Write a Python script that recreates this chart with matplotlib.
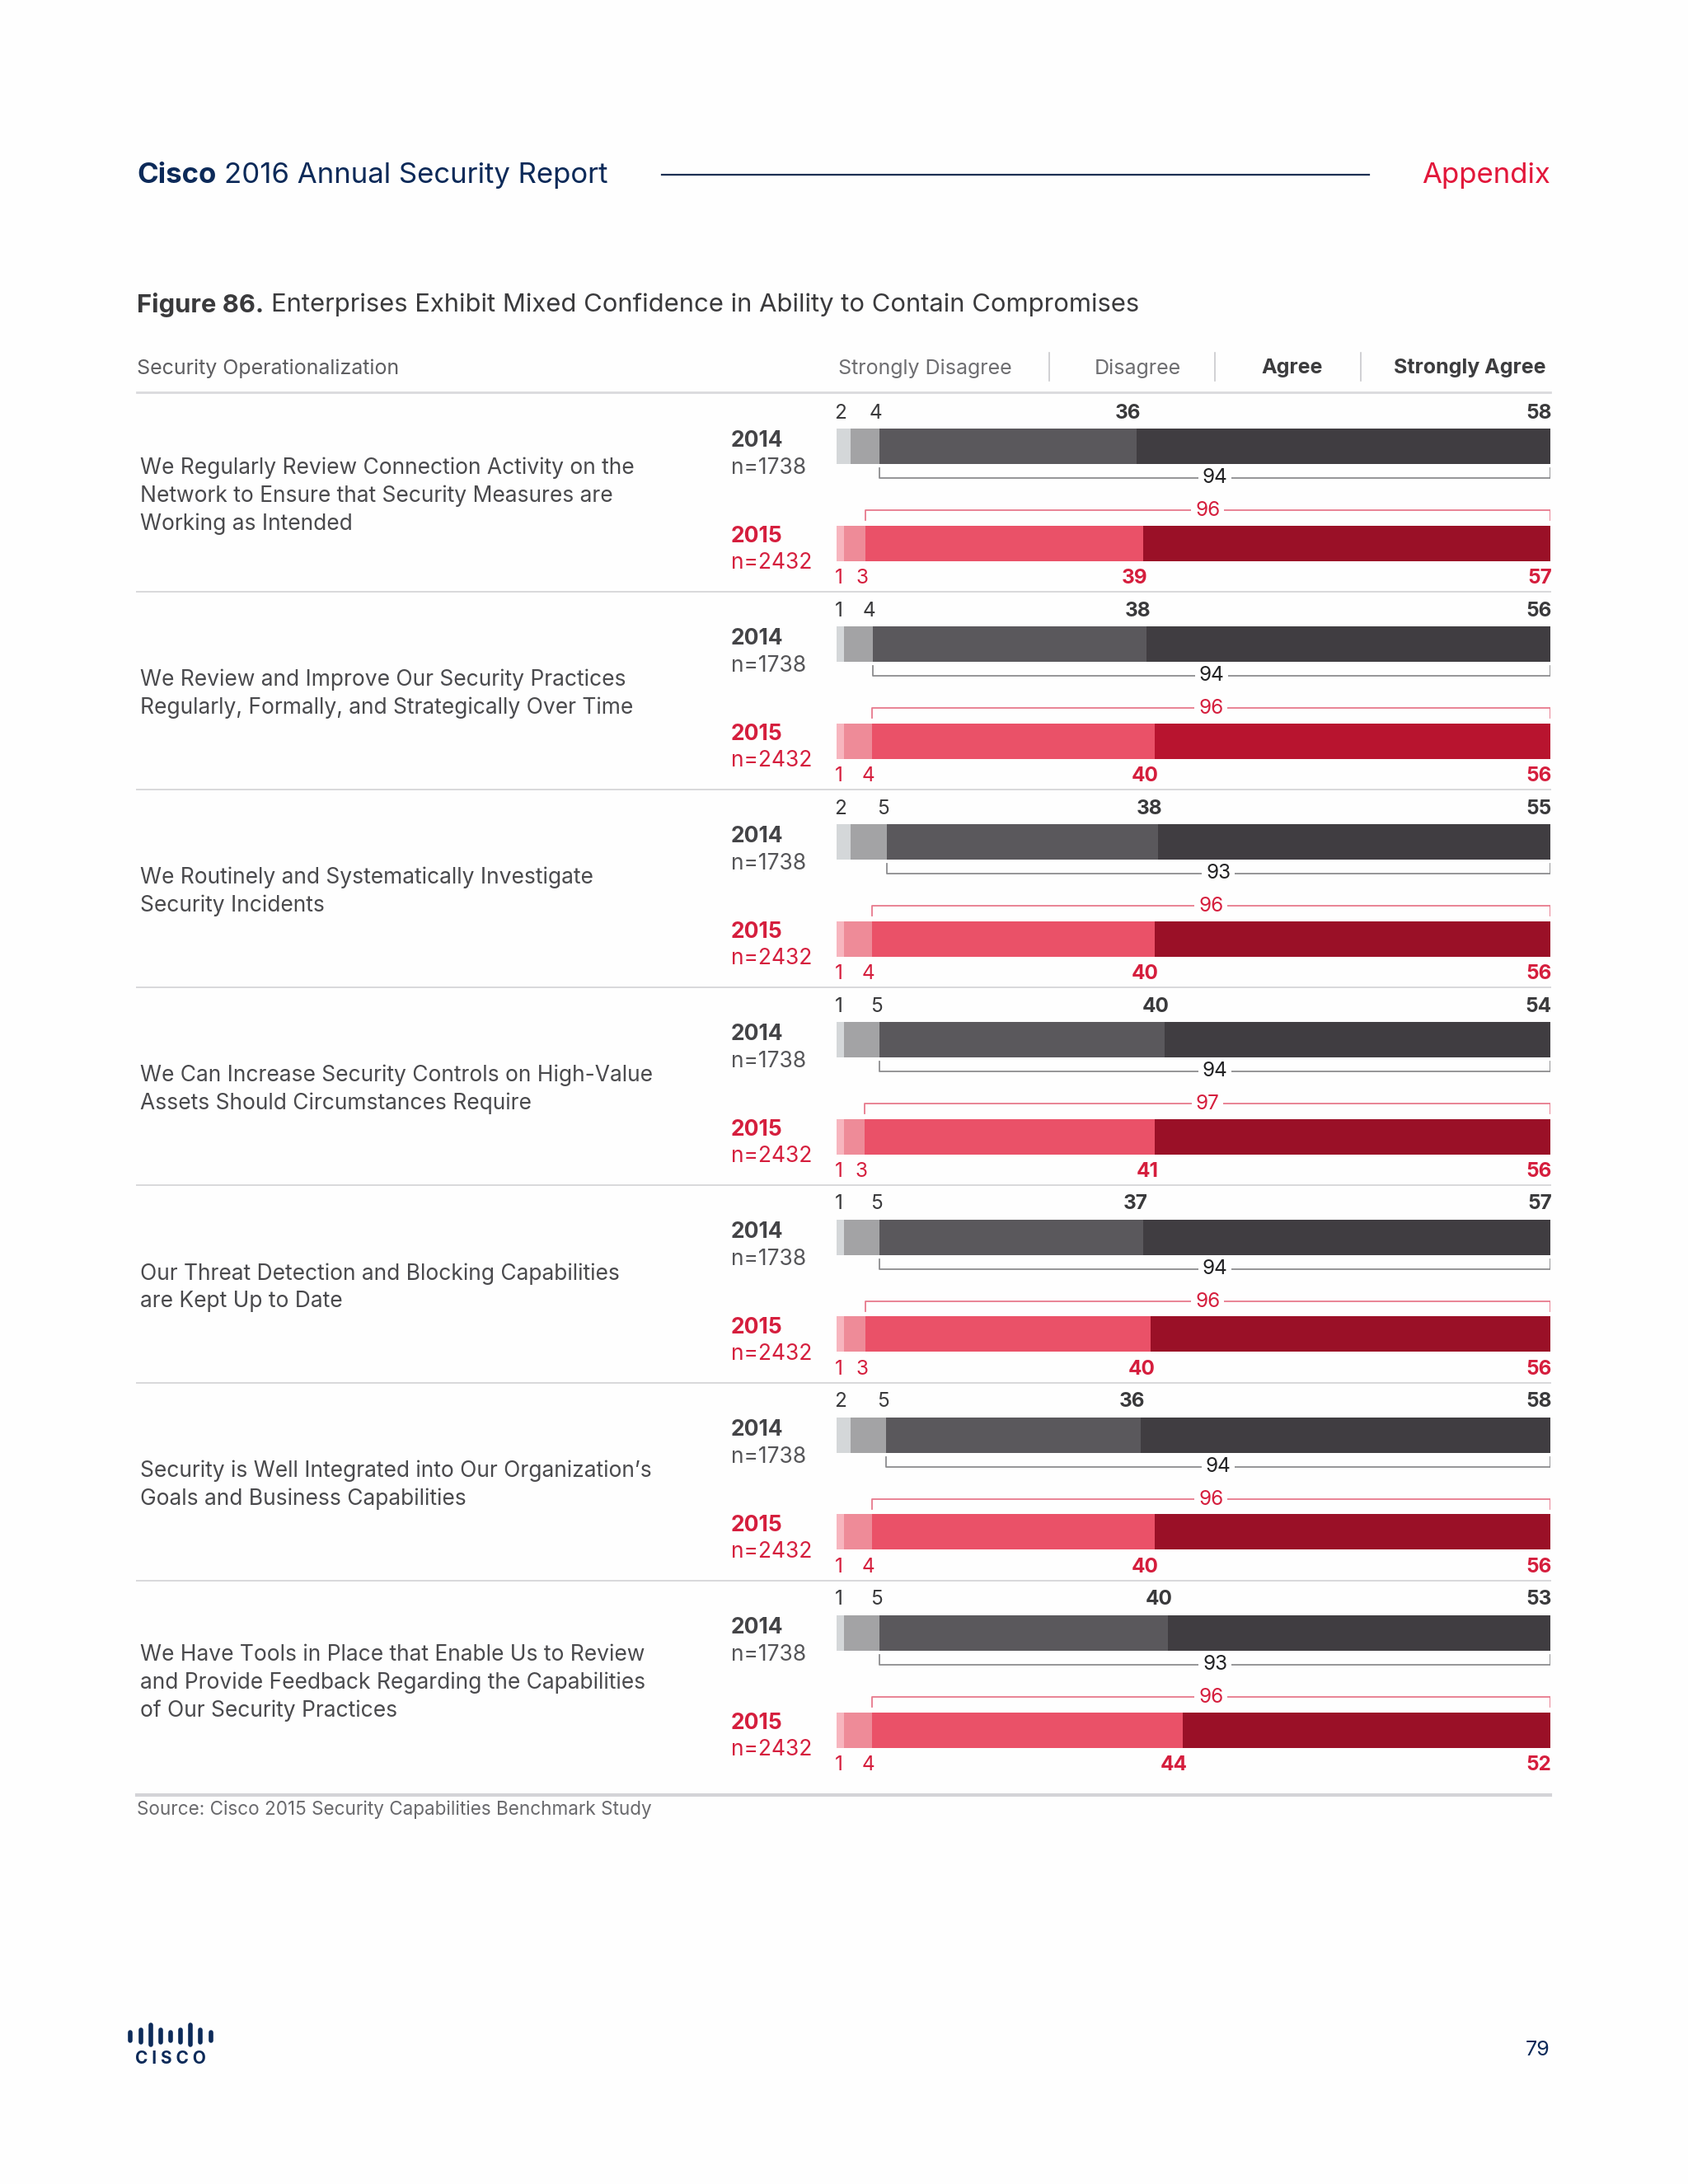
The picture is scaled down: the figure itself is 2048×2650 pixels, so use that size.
import numpy as np
import matplotlib
matplotlib.use("Agg")
import matplotlib.pyplot as plt

plt.rcParams['font.family'] = ['Inter', 'DejaVu Sans']

# ---- data ----
statements = [
    "We Regularly Review Connection Activity on the\nNetwork to Ensure that Security Measures are\nWorking as Intended",
    "We Review and Improve Our Security Practices\nRegularly, Formally, and Strategically Over Time",
    "We Routinely and Systematically Investigate\nSecurity Incidents",
    "We Can Increase Security Controls on High-Value\nAssets Should Circumstances Require",
    "Our Threat Detection and Blocking Capabilities\nare Kept Up to Date",
    "Security is Well Integrated into Our Organization\u2019s\nGoals and Business Capabilities",
    "We Have Tools in Place that Enable Us to Review\nand Provide Feedback Regarding the Capabilities\nof Our Security Practices",
]
categories = ["Strongly Disagree", "Disagree", "Agree", "Strongly Agree"]
years = ["2014", "2015"]
sample_sizes = ["n=1738", "n=2432"]

# columns: strongly disagree, disagree, agree, strongly agree
vals_2014 = np.array([
    [2, 4, 36, 58],
    [1, 4, 38, 56],
    [2, 5, 38, 55],
    [1, 5, 40, 54],
    [1, 5, 37, 57],
    [2, 5, 36, 58],
    [1, 5, 40, 53],
])
vals_2015 = np.array([
    [1, 3, 39, 57],
    [1, 4, 40, 56],
    [1, 4, 40, 56],
    [1, 3, 41, 56],
    [1, 3, 40, 56],
    [1, 4, 40, 56],
    [1, 4, 44, 52],
])

# ---- styles ----
GREYS = ["#D4D7D9", "#A3A3A5", "#5A585C", "#403D41"]
REDS = ["#F7B5BE", "#EE8B98", "#EA5168", "#9A1027"]
RED_HIGHLIGHT = "#B8142F"   # row 2 uses a brighter strongly-agree red
NAVY = "#0C2A59"
RED_TXT = "#D51E3D"
LABEL_TXT = "#4A4A4D"
NUM_SIZE = 17.5

W, H = 2048, 2650
PITCH = 240.0   # pixels per row
Y0 = 500.0      # pixel y of first row's value labels

fig = plt.figure(figsize=(W / 100, H / 100), dpi=100)
fig.patch.set_facecolor("#FEFEFE")
renderer = fig.canvas.get_renderer()

bg = fig.add_axes([0, 0, 1, 1])
bg.set_xlim(0, W)
bg.set_ylim(H, 0)
bg.axis("off")


def text_pair(x, y, first, second, size, color, gap=0.28):
    # bold lead-in followed by regular text on the same line
    t = bg.text(x, y, first, fontsize=size, fontweight="bold", color=color, va="center", ha="left")
    bb = t.get_window_extent(renderer)
    bg.text(x + bb.width + size * gap * 100 / 72, y, second, fontsize=size, color=color,
            va="center", ha="left")


# header
text_pair(166, 213, "Cisco", "2016 Annual Security Report", 25, NAVY)
bg.plot([803, 1661], [212, 212], color="#1C2F52", lw=1.6)
bg.text(1881, 213, "Appendix", fontsize=25, color="#E2173A", va="center", ha="right")

# figure title
text_pair(166, 370, "Figure 86.", "Enterprises Exhibit Mixed Confidence in Ability to Contain Compromises",
          22.3, "#3A3A3C")

# column header
bg.text(166, 447, "Security Operationalization", fontsize=18, color="#5E5E61", va="center", ha="left")
hdr_x = [1122, 1380, 1568, 1783]
hdr_w = ["normal", "normal", "bold", "bold"]
hdr_c = ["#6E6E71", "#6E6E71", "#3C3C3E", "#3C3C3E"]
for cat, hx, w, c in zip(categories, hdr_x, hdr_w, hdr_c):
    bg.text(hx, 447, cat, fontsize=18, fontweight=w, color=c, va="center", ha="center")
for vx in [1273, 1474, 1651]:
    bg.plot([vx, vx], [428, 462], color="#C9C9CC", lw=1.2)
bg.plot([166, 1881], [476, 476], color="#DADADD", lw=2)

# row separators and left labels
n = len(statements)
for i, s in enumerate(statements):
    y0 = Y0 + PITCH * i
    bg.text(170, y0 + 102, s, fontsize=19, color=LABEL_TXT, va="center", ha="left",
            linespacing=1.36)
    bg.text(887, y0 + 35, years[0], fontsize=19, fontweight="bold", color="#444447", va="center")
    bg.text(887, y0 + 68, sample_sizes[0], fontsize=19, color="#555558", va="center")
    bg.text(887, y0 + 151, years[1], fontsize=19, fontweight="bold", color=RED_TXT, va="center")
    bg.text(887, y0 + 183, sample_sizes[1], fontsize=19, color=RED_TXT, va="center")
    if i < n - 1:
        bg.plot([166, 1881], [y0 + 218, y0 + 218], color="#D8D8DB", lw=1.4)
bg.plot([166, 1881], [Y0 + PITCH * (n - 1) + 238] * 2, color="#D3D3D7", lw=3)

bg.text(166, 2196, "Source: Cisco 2015 Security Capabilities Benchmark Study",
        fontsize=16.2, color="#6A6A6D", va="center", ha="left")

# footer: page number and logo
bg.text(1881, 2488, "79", fontsize=18, color=NAVY, va="center", ha="right")
logo_x = [158, 171, 183, 195, 207, 219, 231, 243, 256]
logo_h = [4, 7.5, 13.5, 7.5, 4, 7.5, 13.5, 7.5, 4]
for lx, lh in zip(logo_x, logo_h):
    bg.plot([lx, lx], [2470 - lh, 2474 + lh * 0.5], color=NAVY, lw=4, solid_capstyle="round")
bg.text(207, 2498, "C I S C O", fontsize=15, fontweight="bold", color=NAVY, va="center", ha="center")

# ---- bar panel (x in percent, y in row units) ----
ax = fig.add_axes([1015 / W, 0, 866 / W, 1])
ax.set_xlim(0, 100)
ax.set_ylim((H - Y0) / PITCH, -Y0 / PITCH)
ax.axis("off")

rows = np.arange(n)


def off(px):
    return px / PITCH


def draw_year(vals, colors, bar_off, bracket_line, bracket_tick, label_off,
              txt_col, bracket_col, total_col, sa_colors):
    share = vals / vals.sum(axis=1, keepdims=True) * 100
    cum = np.cumsum(share, axis=1)
    left = cum - share
    for k in range(4):
        col = colors[k] if k < 3 else sa_colors
        ax.barh(rows + off(bar_off), share[:, k], left=left[:, k], height=off(43),
                color=col, edgecolor="none")
    for i in range(n):
        yl = i + off(label_off)
        ax.text(-0.3, yl, str(vals[i, 0]), fontsize=NUM_SIZE, color=txt_col, ha="left", va="center")
        ax.text(cum[i, 1] + 0.4, yl, str(vals[i, 1]), fontsize=NUM_SIZE, color=txt_col,
                ha="right", va="center")
        ax.text(cum[i, 2] + 0.6, yl, str(vals[i, 2]), fontsize=NUM_SIZE, fontweight="bold",
                color=txt_col, ha="right", va="center")
        ax.text(100.2, yl, str(vals[i, 3]), fontsize=NUM_SIZE, fontweight="bold",
                color=txt_col, ha="right", va="center")
        # bracket over agree + strongly agree
        x0 = cum[i, 1]
        yb = i + off(bracket_line)
        yt = i + off(bracket_tick)
        ax.plot([x0, x0, 100, 100], [yt, yb, yb, yt], color=bracket_col, lw=1.3)
        ax.text((x0 + 100) / 2, yb, str(vals[i, 2] + vals[i, 3]), fontsize=NUM_SIZE,
                color=total_col, ha="center", va="center",
                bbox=dict(boxstyle="square,pad=0.2", fc="#FEFEFE", ec="none"))


draw_year(vals_2014, GREYS, 41.5, 80, 68, 1, "#3A3A3C", "#8C8C8F", "#222224",
          [GREYS[3]] * n)
sa15 = [REDS[3]] * n
sa15[1] = RED_HIGHLIGHT
draw_year(vals_2015, REDS, 159, 119, 131, 202, RED_TXT, "#E77A8D", RED_TXT, sa15)

fig.savefig("out.png", dpi=100, facecolor=fig.get_facecolor())
